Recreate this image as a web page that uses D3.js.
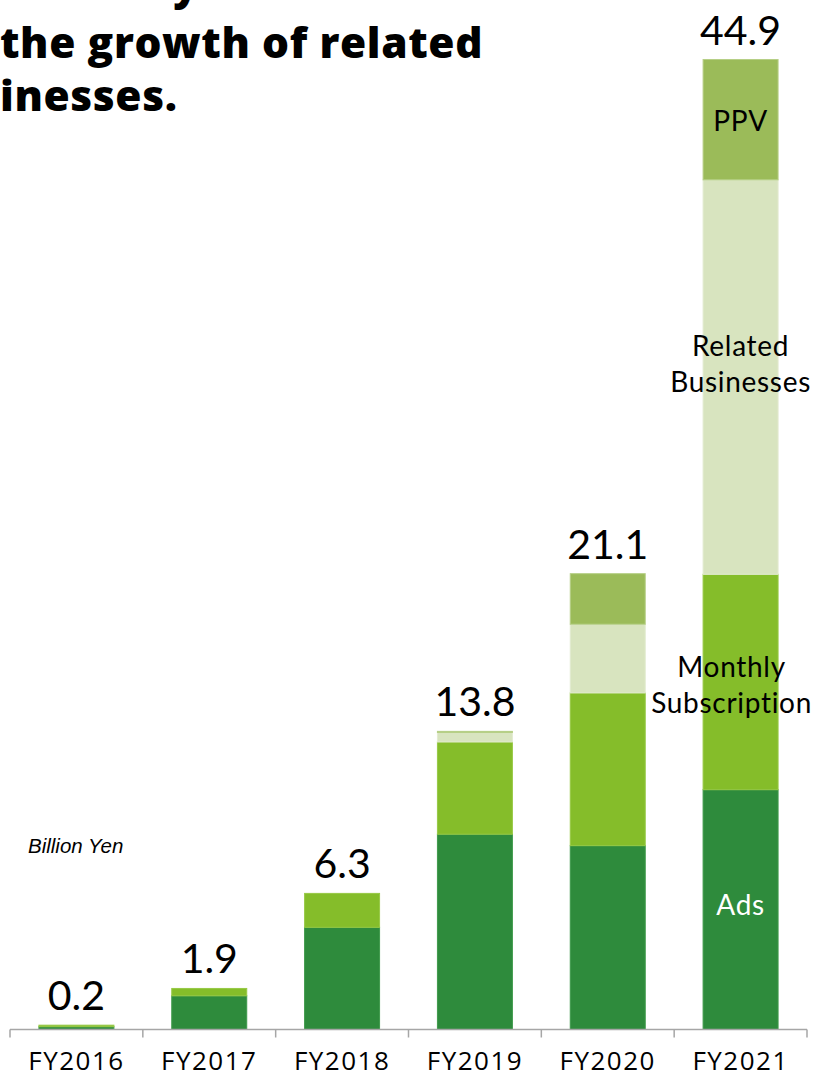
<!DOCTYPE html>
<html>
<head>
<meta charset="utf-8">
<script src="https://cdn.jsdelivr.net/npm/d3@7"></script>
<style>
  html, body { margin: 0; padding: 0; background: #ffffff; }
  svg { display: block; }
</style>
</head>
<body>
<svg id="chart" width="817" height="1077"></svg>
<script>
// Fiscal years on the x axis
const years = ["FY2016", "FY2017", "FY2018", "FY2019", "FY2020", "FY2021"];

// Revenue by business line, billion yen
const ads          = [0.13, 1.56, 4.73, 9.04, 8.51, 11.10];
const subscription = [0.07, 0.34, 1.57, 4.27, 7.07, 9.97];
const related      = [0.00, 0.00, 0.00, 0.44, 3.18, 18.26];
const ppv          = [0.00, 0.00, 0.00, 0.05, 2.34, 5.57];

// Totals printed above each bar
const totalLabels = ["0.2", "1.9", "6.3", "13.8", "21.1", "44.9"];

// Series names, drawn inside the FY2021 bar
const seriesKeys   = ["ads", "subscription", "related", "ppv"];
const seriesNames  = [["Ads"], ["Monthly", "Subscription"], ["Related", "Businesses"], ["PPV"]];
const seriesColors = ["#2e8b3c", "#85bd2a", "#d8e4bf", "#9bbb59"];
const seriesStroke = ["#3f9a4b", "#97c945", "#e2ebd0", "#b6cf86"];
const seriesText   = ["#ffffff", "#000000", "#000000", "#000000"];

const titleLines = ["Revenue to be driven by", "the growth of related", "businesses."];

const rows = years.map((y, i) => ({
  year: y,
  ads: ads[i],
  subscription: subscription[i],
  related: related[i],
  ppv: ppv[i]
}));

const svg = d3.select("#chart");

const x = d3.scaleBand()
  .domain(years)
  .range([10, 807])
  .paddingInner(0.428)
  .paddingOuter(0.214);

const y = d3.scaleLinear()
  .domain([0, 44.9])
  .range([1029.5, 59.5]);

const stacked = d3.stack().keys(seriesKeys)(rows);

// Stacked bars
const layers = svg.append("g").attr("class", "bars")
  .selectAll("g")
  .data(stacked)
  .join("g")
  .attr("fill", (d, i) => seriesColors[i])
  .attr("stroke", (d, i) => seriesStroke[i])
  .attr("stroke-width", 1);

layers.selectAll("rect")
  .data(d => d.filter(s => s[1] - s[0] > 0))
  .join("rect")
  .attr("x", d => x(d.data.year) + 0.5)
  .attr("width", x.bandwidth() - 1)
  .attr("y", d => y(d[1]))
  .attr("height", d => y(d[0]) - y(d[1]));

// Axis: baseline with ticks at the category boundaries
const axisColor = "#a6a6a6";
const cellEdge = years.map(yr => x(yr) - x.step() * x.paddingInner() / 2);
cellEdge.push(x.range()[1]);

const axisG = svg.append("g").attr("class", "x-axis");
axisG.append("line")
  .attr("x1", x.range()[0]).attr("x2", x.range()[1])
  .attr("y1", y(0)).attr("y2", y(0))
  .attr("stroke", axisColor).attr("stroke-width", 1.5);
axisG.selectAll("line.tick")
  .data(cellEdge)
  .join("line")
  .attr("class", "tick")
  .attr("x1", d => d).attr("x2", d => d)
  .attr("y1", y(0)).attr("y2", y(0) + 8)
  .attr("stroke", axisColor).attr("stroke-width", 1.5);

const labelAxis = d3.axisBottom(x).tickSize(0).tickPadding(0);
const labelG = svg.append("g")
  .attr("transform", `translate(0, ${y(0)})`)
  .call(labelAxis);
labelG.select(".domain").remove();
labelG.selectAll("text")
  .attr("dy", null)
  .attr("y", 40.5)
  .attr("fill", "#000")
  .style("font-family", "'Open Sans', sans-serif")
  .style("font-size", "26px")
  .style("letter-spacing", "1.5px");

// Totals above bars
const totals = rows.map(r => seriesKeys.reduce((s, k) => s + r[k], 0));
svg.append("g").attr("class", "totals")
  .selectAll("text")
  .data(years)
  .join("text")
  .attr("x", yr => x(yr) + x.bandwidth() / 2)
  .attr("y", (yr, i) => y(totals[i]) - 15)
  .attr("text-anchor", "middle")
  .style("font-family", "Lato, sans-serif")
  .style("font-size", "41px")
  .attr("fill", "#000")
  .text((yr, i) => totalLabels[i]);

// Series names inside the last bar
const lastYear = years[years.length - 1];
const lastIdx = years.length - 1;
const nameShiftY = { ads: -5, subscription: 3, related: -13, ppv: 1 };
const nameShiftX = { ads: 0, subscription: -9, related: 0, ppv: 0 };
const nameG = svg.append("g").attr("class", "series-names");
stacked.forEach((layer, i) => {
  const seg = layer[lastIdx];
  const key = seriesKeys[i];
  const lines = seriesNames[i];
  const lineH = 36;
  const mid = (y(seg[0]) + y(seg[1])) / 2 + nameShiftY[key];
  const cx = x(lastYear) + x.bandwidth() / 2 + nameShiftX[key];
  const t = nameG.append("text")
    .attr("x", cx)
    .attr("text-anchor", "middle")
    .attr("fill", seriesText[i])
    .style("font-family", "Lato, sans-serif")
    .style("font-size", "28px")
    .style("letter-spacing", "0.7px");
  lines.forEach((ln, j) => {
    t.append("tspan")
      .attr("x", cx)
      .attr("y", mid + 10 + (j - (lines.length - 1) / 2) * lineH)
      .text(ln);
  });
});

// Unit note
svg.append("text")
  .attr("x", 28)
  .attr("y", 853)
  .style("font-family", "'Liberation Sans', Arial, sans-serif")
  .style("font-style", "italic")
  .style("font-size", "20.5px")
  .attr("fill", "#000")
  .text("Billion Yen");

// Headline: sized so the middle line spans the width of the upper chart area
const titleG = svg.append("g").attr("class", "title")
  .style("font-family", "'Open Sans', sans-serif")
  .style("font-weight", 800)
  .style("letter-spacing", "0.6px")
  .attr("fill", "#000");
const t2 = titleG.append("text").attr("x", 0).attr("y", 58).style("font-size", "40px").text(titleLines[1]);
const fs = 40 * 484 / t2.node().getComputedTextLength();
titleG.style("font-size", fs + "px");
t2.style("font-size", null);
const t1 = titleG.append("text").attr("x", 199).attr("y", 0).attr("text-anchor", "end").text(titleLines[0]);
const t3 = titleG.append("text").attr("y", 111).text(titleLines[2]);
// the last line starts off the left edge so that "inesses." begins at x = 0
const probe = titleG.append("text").text("bus");
const busW = probe.node().getComputedTextLength();
probe.remove();
t3.attr("x", -busW);
</script>
</body>
</html>
